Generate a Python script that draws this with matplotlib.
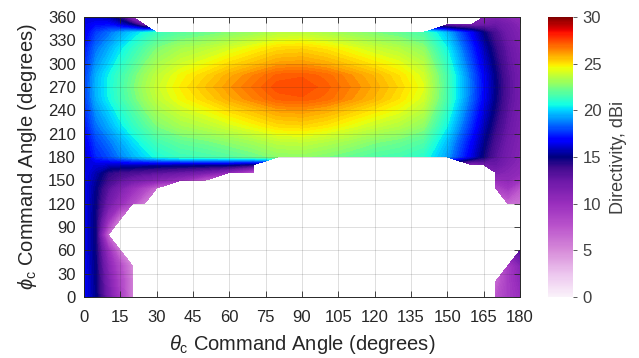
import numpy as np
import matplotlib
matplotlib.use('Agg')
import matplotlib.pyplot as plt
from matplotlib.colors import LinearSegmentedColormap, ListedColormap, Normalize
from matplotlib.cm import ScalarMappable

plt.rcParams['font.family'] = ['Liberation Sans', 'DejaVu Sans']
plt.rcParams['mathtext.fontset'] = 'custom'
plt.rcParams['mathtext.rm'] = 'Liberation Sans'
plt.rcParams['mathtext.it'] = 'Liberation Sans:italic'

N = np.nan

# grid nodes (degrees)
theta_c = [0, 5, 10, 15, 20, 25, 30, 40, 50, 60, 70, 80, 90, 100, 110, 120, 130, 140,
           150, 160, 165, 170, 175, 180]
phi_c = [0, 20, 40, 60, 80, 100, 120, 140, 150, 160, 170, 180, 200, 220, 240, 255, 270,
         285, 300, 320, 340, 350, 360]

# directivity (dBi), one row per phi_c node; nan = no solution (white)
d_000 = [16.8, 15.0, 12.0, 9.0, 5.5] + [N] * 16 + [7.5, 9.0, 10.0]
d_020 = [16.8, 14.9, 11.5, 8.5, 5.5] + [N] * 16 + [6.5, 9.0, 10.5]
d_040 = [16.7, 14.8, 11.0, 8.0, 5.0] + [N] * 17 + [9.0, 11.0]
d_060 = [16.6, 14.7, 10.0, 5.5] + [N] * 19 + [13.5]
d_080 = [16.6, 14.6, 6.5] + [N] * 21
d_100 = [16.6, 14.6, 10.0, 5.5] + [N] * 20
d_120 = [16.6, 14.8, 12.0, 10.0, 8.0, 5.5] + [N] * 16 + [6.5, 6.0]
d_140 = [16.6, 15.0, 13.0, 11.5, 10.0, 8.5, 6.5] + [N] * 14 + [8.5, 9.5, 7.5]
d_150 = [16.6, 15.3, 13.8, 12.8, 12.0, 11.5, 11.0, 10.0, 7.0] + [N] * 12 + [10.0, 10.5, 9.5]
d_160 = [16.6, 15.6, 14.3, 13.8, 13.5, 13.2, 13.0, 12.5, 11.8, 10.5, 7.5] + [N] * 10 + [11.5, 11.0, 10.5]
d_170 = [16.4, 16.2, 16.0, 15.8, 15.7, 15.6, 15.5, 15.4, 15.3, 15.2, 14.5] + [N] * 8 + [11.0, 12.0, 12.5, 11.5, 10.8]
d_180 = [16.0, 17.4, 18.0, 18.8, 19.5, 20.1, 20.7, 21.3, 21.5, 21.8, 22.2, 22.7, 22.8, 22.5, 22.1, 21.7, 21.5, 21.0, 19.2, 16.3, 14.7, 13.0, 11.9, 11.1]
d_200 = [16.4, 17.9, 18.6, 19.4, 20.2, 20.9, 21.5, 22.1, 22.4, 22.8, 23.2, 23.7, 23.8, 23.5, 23.1, 22.6, 22.3, 21.8, 19.7, 16.8, 15.2, 13.5, 12.2, 11.3]
d_220 = [17.0, 18.6, 19.4, 20.3, 21.1, 21.8, 22.5, 23.2, 23.6, 24.1, 24.6, 25.1, 25.2, 24.9, 24.4, 23.9, 23.5, 22.8, 20.5, 17.5, 15.8, 14.1, 12.6, 11.6]
d_240 = [17.4, 19.1, 20.0, 20.9, 21.7, 22.5, 23.2, 24.0, 24.5, 25.1, 25.6, 26.1, 26.2, 25.9, 25.4, 24.9, 24.4, 23.6, 21.1, 18.0, 16.3, 14.6, 12.9, 11.8]
d_255 = [17.7, 19.5, 20.5, 21.4, 22.2, 23.0, 23.7, 24.6, 25.2, 25.9, 26.5, 27.1, 27.2, 26.9, 26.3, 25.7, 25.0, 24.1, 21.5, 18.4, 16.7, 14.9, 13.1, 12.0]
d_270 = [17.8, 19.6, 20.6, 21.5, 22.4, 23.2, 23.9, 24.8, 25.5, 26.2, 26.8, 27.4, 27.5, 27.1, 26.5, 25.9, 25.2, 24.3, 21.6, 18.5, 16.8, 15.0, 13.2, 12.0]
d_285 = [17.7, 19.5, 20.5, 21.4, 22.2, 23.0, 23.7, 24.6, 25.2, 25.9, 26.5, 27.1, 27.2, 26.9, 26.3, 25.7, 25.0, 24.1, 21.5, 18.4, 16.7, 14.9, 13.1, 12.0]
d_300 = [17.4, 19.1, 20.0, 20.9, 21.7, 22.5, 23.2, 24.0, 24.5, 25.1, 25.6, 26.1, 26.2, 25.9, 25.4, 24.9, 24.4, 23.6, 21.1, 18.0, 16.3, 14.6, 12.9, 11.8]
d_320 = [17.0, 18.6, 19.4, 20.3, 21.1, 21.8, 22.5, 23.2, 23.6, 24.1, 24.6, 25.1, 25.2, 24.9, 24.4, 23.9, 23.5, 22.8, 20.5, 17.5, 15.8, 14.1, 12.6, 11.6]
d_340 = [16.4, 17.8, 18.5, 19.3, 20.0, 20.7, 21.3, 21.9, 22.2, 22.6, 23.0, 23.5, 23.6, 23.3, 22.9, 22.5, 22.1, 21.6, 19.6, 16.7, 15.0, 13.4, 12.1, 11.3]
d_350 = [16.4, 16.9, 17.0, 16.2, 15.0, 12.0] + [N] * 12 + [12.5, 12.0, 12.2, 12.5, 11.8, 11.0]
d_360 = [16.2, 16.0, 15.6, 14.0, 10.0] + [N] * 15 + [11.0, 11.5, 11.0, 10.5]

rows = [d_000, d_020, d_040, d_060, d_080, d_100, d_120, d_140, d_150, d_160, d_170,
        d_180, d_200, d_220, d_240, d_255, d_270, d_285, d_300, d_320, d_340, d_350, d_360]

cbar_ticks = [0, 5, 10, 15, 20, 25, 30]

# colormap: white -> purple -> navy for 0-15, jet for 15-30
low = LinearSegmentedColormap.from_list('low', [
    (0.0, '#faf2fa'), (2.5 / 15, '#ecc4ee'), (5 / 15, '#d68ad9'), (7.5 / 15, '#bb55cc'),
    (10 / 15, '#9a2fbe'), (12.5 / 15, '#6c18a8'), (14 / 15, '#3e0a8e'), (1.0, '#000080')])
cols = np.vstack([low(np.linspace(0, 1, 128)), plt.cm.jet(np.linspace(0, 1, 128))])
cmap = ListedColormap(cols)

TH, PH = np.meshgrid(theta_c, phi_c)
Z = np.ma.masked_invalid(np.array(rows, dtype=float))

fig = plt.figure(figsize=(6.39, 3.58), dpi=100)
ax = fig.add_axes([84 / 639, 1 - 297 / 358, 436 / 639, 280 / 358])
cax = fig.add_axes([548 / 639, 1 - 297 / 358, 25 / 639, 280 / 358])

ax.contourf(TH, PH, Z, levels=np.linspace(0, 30, 121), cmap=cmap, vmin=0, vmax=30)

tc = '#262626'
ax.set_xlim(0, 180)
ax.set_ylim(0, 360)
ax.set_xticks(np.arange(0, 181, 15))
ax.set_yticks(np.arange(0, 361, 30))
ax.grid(True, color=tc, alpha=0.15, linewidth=0.7)
ax.set_axisbelow(False)
ax.tick_params(direction='in', length=4, width=0.6, top=True, right=True,
               labelsize=12, colors=tc)
ax.tick_params(axis='x', pad=9)
ax.tick_params(axis='y', pad=6)
for s in ax.spines.values():
    s.set_color(tc)
    s.set_linewidth(0.7)

ax.set_xlabel(r'$\theta_{\mathrm{c}}$ Command Angle (degrees)', fontsize=14.5, color=tc, labelpad=6)
ax.set_ylabel(r'$\phi_{\mathrm{c}}$ Command Angle (degrees)', fontsize=14.5, color=tc, labelpad=6)

cb = fig.colorbar(ScalarMappable(norm=Normalize(0, 30), cmap=cmap), cax=cax, ticks=cbar_ticks)
cb.outline.set_visible(False)
cb.ax.tick_params(direction='out', length=3, width=0.6, labelsize=12, colors='#404040', pad=4)
cb.set_label('Directivity, dBi', fontsize=13, color='#404040', labelpad=6)

fig.savefig('out.png', dpi=100)
